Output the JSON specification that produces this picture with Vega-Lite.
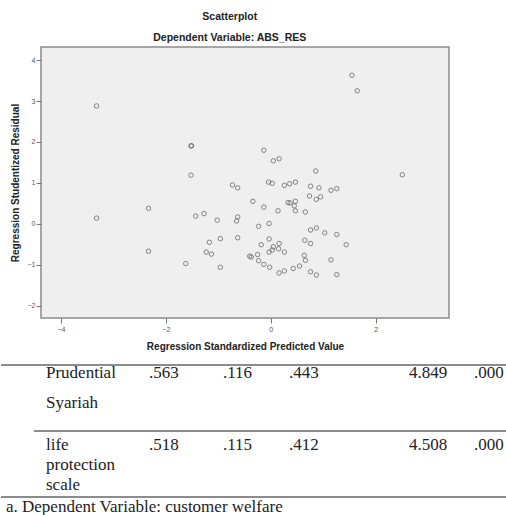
{
  "$schema": "https://vega.github.io/schema/vega-lite/v6.json",
  "background": "white",
  "padding": {"left": 0, "top": 11, "right": 0, "bottom": 0},
  "config": {"view": {"stroke": null}, "font": "Liberation Sans"},
  "datasets": {
    "points": [
      {"predicted": -3.32, "residual": 2.88}, {"predicted": -3.32, "residual": 0.14},
      {"predicted": -2.33, "residual": 0.38}, {"predicted": -2.33, "residual": -0.67},
      {"predicted": -1.52, "residual": 1.90}, {"predicted": -1.51, "residual": 1.91},
      {"predicted": -1.52, "residual": 1.19}, {"predicted": -1.62, "residual": -0.97},
      {"predicted": -1.43, "residual": 0.19}, {"predicted": -1.27, "residual": 0.25},
      {"predicted": -1.17, "residual": -0.45}, {"predicted": -1.23, "residual": -0.69},
      {"predicted": -1.13, "residual": -0.74}, {"predicted": -1.02, "residual": 0.09},
      {"predicted": -0.96, "residual": -0.36}, {"predicted": -0.96, "residual": -1.06},
      {"predicted": -0.73, "residual": 0.95}, {"predicted": -0.63, "residual": 0.88},
      {"predicted": -0.63, "residual": 0.17}, {"predicted": -0.65, "residual": 0.07},
      {"predicted": -0.63, "residual": -0.34}, {"predicted": -0.34, "residual": 0.55},
      {"predicted": -0.37, "residual": -0.81}, {"predicted": -0.40, "residual": -0.79},
      {"predicted": -0.25, "residual": -0.75}, {"predicted": 1.55, "residual": 3.63},
      {"predicted": 1.65, "residual": 3.25}, {"predicted": 2.51, "residual": 1.20},
      {"predicted": -0.13, "residual": 1.80}, {"predicted": 0.05, "residual": 1.54},
      {"predicted": 0.16, "residual": 1.59}, {"predicted": 0.86, "residual": 1.29},
      {"predicted": -0.04, "residual": 1.02}, {"predicted": 0.03, "residual": 0.99},
      {"predicted": 0.26, "residual": 0.94}, {"predicted": 0.36, "residual": 0.98},
      {"predicted": 0.47, "residual": 1.02}, {"predicted": 0.76, "residual": 0.92},
      {"predicted": 0.92, "residual": 0.88}, {"predicted": 1.15, "residual": 0.82},
      {"predicted": 1.26, "residual": 0.86}, {"predicted": -0.13, "residual": 0.41},
      {"predicted": 0.33, "residual": 0.52}, {"predicted": 0.37, "residual": 0.51},
      {"predicted": 0.47, "residual": 0.55}, {"predicted": 0.45, "residual": 0.44},
      {"predicted": 0.47, "residual": 0.32}, {"predicted": 0.14, "residual": 0.32},
      {"predicted": 0.66, "residual": 0.29}, {"predicted": 0.74, "residual": 0.68},
      {"predicted": 0.87, "residual": 0.60}, {"predicted": 0.95, "residual": 0.66},
      {"predicted": -0.23, "residual": -0.06}, {"predicted": -0.03, "residual": 0.01},
      {"predicted": 0.76, "residual": -0.15}, {"predicted": 0.87, "residual": -0.10},
      {"predicted": 1.03, "residual": -0.22}, {"predicted": 1.26, "residual": -0.26},
      {"predicted": 1.44, "residual": -0.51}, {"predicted": -0.03, "residual": -0.37},
      {"predicted": -0.18, "residual": -0.51}, {"predicted": 0.05, "residual": -0.56},
      {"predicted": 0.16, "residual": -0.48}, {"predicted": 0.15, "residual": -0.61},
      {"predicted": 0.03, "residual": -0.64}, {"predicted": -0.03, "residual": -0.69},
      {"predicted": 0.26, "residual": -0.69}, {"predicted": 0.65, "residual": -0.40},
      {"predicted": 0.76, "residual": -0.48}, {"predicted": 0.64, "residual": -0.77},
      {"predicted": 0.66, "residual": -0.89}, {"predicted": 1.15, "residual": -0.88},
      {"predicted": -0.23, "residual": -0.90}, {"predicted": -0.13, "residual": -0.99},
      {"predicted": -0.02, "residual": -1.06}, {"predicted": 0.16, "residual": -1.20},
      {"predicted": 0.26, "residual": -1.15}, {"predicted": 0.43, "residual": -1.09},
      {"predicted": 0.55, "residual": -1.03}, {"predicted": 0.76, "residual": -1.17},
      {"predicted": 0.87, "residual": -1.25}, {"predicted": 1.26, "residual": -1.24}
    ],
    "table": [
      {"row": "Prudential Syariah", "name": "Prudential\nSyariah", "B": ".563", "SE": ".116", "Beta": ".443", "t": "4.849", "Sig": ".000"},
      {"row": "life protection scale", "name": "\u00a0life\nprotection\nscale", "B": ".518", "SE": ".115", "Beta": ".412", "t": "4.508", "Sig": ".000"}
    ]
  },
  "spacing": 12,
  "vconcat": [
    {
      "spacing": 0,
      "hconcat": [
        {
          "width": 8, "height": 10,
          "data": {"values": [{"blank": ""}]},
          "mark": {"type": "text"},
          "encoding": {"text": {"field": "blank"}}
        },
        {
          "width": 408, "height": 271,
          "view": {"fill": "#efefef", "stroke": "#8c8c8c", "strokeWidth": 1.5},
          "title": {
            "text": "Scatterplot", "subtitle": "Dependent Variable: ABS_RES",
            "fontSize": 10.5, "subtitleFontSize": 10.5, "fontWeight": "bold", "subtitleFontWeight": "bold",
            "color": "#222", "subtitleColor": "#222", "anchor": "middle", "frame": "bounds",
            "offset": 4, "subtitlePadding": 10
          },
          "data": {"name": "points"},
          "mark": {"type": "point", "shape": "circle", "filled": false, "size": 20, "strokeWidth": 1, "color": "#555"},
          "encoding": {
            "x": {
              "field": "predicted", "type": "quantitative",
              "scale": {"domain": [-4.38, 3.4], "nice": false, "zero": false},
              "axis": {
                "title": "Regression Standardized Predicted Value", "values": [-4, -2, 0, 2],
                "domain": false, "grid": false, "tickSize": 5, "tickColor": "#777",
                "labelFontSize": 7, "labelColor": "#555", "labelPadding": 2,
                "titleFontSize": 10, "titleFontWeight": "bold", "titleColor": "#222", "titlePadding": 9
              }
            },
            "y": {
              "field": "residual", "type": "quantitative",
              "scale": {"domain": [-2.3, 4.32], "nice": false, "zero": false},
              "axis": {
                "title": "Regression Studentized Residual", "values": [-2, -1, 0, 1, 2, 3, 4],
                "domain": false, "grid": false, "tickSize": 5, "tickColor": "#777",
                "labelFontSize": 7, "labelColor": "#555", "labelPadding": 1,
                "titleFontSize": 10, "titleFontWeight": "bold", "titleColor": "#222", "titlePadding": 6.5
              }
            }
          }
        }
      ]
    },
    {
      "spacing": 0,
      "vconcat": [
        {
          "spacing": 0,
          "bounds": "flush",
          "data": {"name": "table"},
          "hconcat": [
            {
              "width": 33, "height": 132,
              "layer": [
                {"transform": [{"filter": "datum.row == 'Prudential Syariah'"}], "mark": {"type": "rule", "color": "#666", "strokeWidth": 1.5}, "encoding": {"y": {"field": "row", "type": "nominal", "sort": null, "scale": {"paddingInner": 0, "paddingOuter": 0}, "axis": null, "bandPosition": 0}}},
                {"transform": [{"filter": "datum.row == 'life protection scale'"}], "mark": {"type": "rule", "color": "#666", "strokeWidth": 1.5}, "encoding": {"y": {"field": "row", "type": "nominal", "sort": null, "scale": {"paddingInner": 0, "paddingOuter": 0}, "axis": null, "bandPosition": 1}}}
              ]
            },
            {
              "width": 24, "height": 132,
              "layer": [
                {"mark": {"type": "rule", "color": "#666", "strokeWidth": 1.5}, "encoding": {"y": {"field": "row", "type": "nominal", "sort": null, "scale": {"paddingInner": 0, "paddingOuter": 0}, "axis": null, "bandPosition": 0}}},
                {"transform": [{"filter": "datum.row == 'life protection scale'"}], "mark": {"type": "rule", "color": "#666", "strokeWidth": 1.5}, "encoding": {"y": {"field": "row", "type": "nominal", "sort": null, "scale": {"paddingInner": 0, "paddingOuter": 0}, "axis": null, "bandPosition": 1}}},
                {"transform": [{"filter": "datum.row == 'Prudential Syariah'"}], "mark": {"type": "text", "align": "left", "baseline": "top", "font": "Liberation Serif", "fontSize": 17, "color": "#222", "lineBreak": "\n", "lineHeight": 30}, "encoding": {"y": {"field": "row", "type": "nominal", "sort": null, "axis": null, "bandPosition": 0}, "text": {"field": "name"}}},
                {"transform": [{"filter": "datum.row == 'life protection scale'"}], "mark": {"type": "text", "align": "left", "baseline": "top", "font": "Liberation Serif", "fontSize": 17, "color": "#222", "lineBreak": "\n", "lineHeight": 20, "dy": 6}, "encoding": {"y": {"field": "row", "type": "nominal", "sort": null, "axis": null, "bandPosition": 0}, "text": {"field": "name"}}}
              ]
            },
            {
              "width": 71, "height": 132,
              "layer": [
                {"mark": {"type": "rule", "color": "#666", "strokeWidth": 1.5}, "encoding": {"y": {"field": "row", "type": "nominal", "sort": null, "scale": {"paddingInner": 0, "paddingOuter": 0}, "axis": null, "bandPosition": 0}}},
                {"transform": [{"filter": "datum.row == 'life protection scale'"}], "mark": {"type": "rule", "color": "#666", "strokeWidth": 1.5}, "encoding": {"y": {"field": "row", "type": "nominal", "sort": null, "scale": {"paddingInner": 0, "paddingOuter": 0}, "axis": null, "bandPosition": 1}}}
              ]
            },
            {
              "width": 40, "height": 132,
              "layer": [
                {"mark": {"type": "rule", "color": "#666", "strokeWidth": 1.5}, "encoding": {"y": {"field": "row", "type": "nominal", "sort": null, "scale": {"paddingInner": 0, "paddingOuter": 0}, "axis": null, "bandPosition": 0}}},
                {"transform": [{"filter": "datum.row == 'life protection scale'"}], "mark": {"type": "rule", "color": "#666", "strokeWidth": 1.5}, "encoding": {"y": {"field": "row", "type": "nominal", "sort": null, "scale": {"paddingInner": 0, "paddingOuter": 0}, "axis": null, "bandPosition": 1}}},
                {"mark": {"type": "text", "align": "left", "baseline": "top", "font": "Liberation Serif", "fontSize": 17, "color": "#222"}, "encoding": {"y": {"field": "row", "type": "nominal", "sort": null, "axis": null, "bandPosition": 0}, "yOffset": {"field": "row", "type": "nominal", "sort": null, "scale": {"type": "point", "range": [0, 6], "padding": 0}}, "text": {"field": "B"}}}
              ]
            },
            {
              "width": 108, "height": 132,
              "layer": [
                {"mark": {"type": "rule", "color": "#666", "strokeWidth": 1.5}, "encoding": {"y": {"field": "row", "type": "nominal", "sort": null, "scale": {"paddingInner": 0, "paddingOuter": 0}, "axis": null, "bandPosition": 0}}},
                {"transform": [{"filter": "datum.row == 'life protection scale'"}], "mark": {"type": "rule", "color": "#666", "strokeWidth": 1.5}, "encoding": {"y": {"field": "row", "type": "nominal", "sort": null, "scale": {"paddingInner": 0, "paddingOuter": 0}, "axis": null, "bandPosition": 1}}},
                {"mark": {"type": "text", "align": "left", "baseline": "top", "font": "Liberation Serif", "fontSize": 17, "color": "#222"}, "encoding": {"y": {"field": "row", "type": "nominal", "sort": null, "axis": null, "bandPosition": 0}, "yOffset": {"field": "row", "type": "nominal", "sort": null, "scale": {"type": "point", "range": [0, 6], "padding": 0}}, "text": {"field": "SE"}}}
              ]
            },
            {
              "width": 24, "height": 132,
              "layer": [
                {"mark": {"type": "rule", "color": "#666", "strokeWidth": 1.5}, "encoding": {"y": {"field": "row", "type": "nominal", "sort": null, "scale": {"paddingInner": 0, "paddingOuter": 0}, "axis": null, "bandPosition": 0}}},
                {"transform": [{"filter": "datum.row == 'life protection scale'"}], "mark": {"type": "rule", "color": "#666", "strokeWidth": 1.5}, "encoding": {"y": {"field": "row", "type": "nominal", "sort": null, "scale": {"paddingInner": 0, "paddingOuter": 0}, "axis": null, "bandPosition": 1}}},
                {"mark": {"type": "text", "align": "left", "baseline": "top", "font": "Liberation Serif", "fontSize": 17, "color": "#222"}, "encoding": {"y": {"field": "row", "type": "nominal", "sort": null, "axis": null, "bandPosition": 0}, "yOffset": {"field": "row", "type": "nominal", "sort": null, "scale": {"type": "point", "range": [0, 6], "padding": 0}}, "text": {"field": "Beta"}}}
              ]
            },
            {
              "width": 60, "height": 132,
              "layer": [
                {"mark": {"type": "rule", "color": "#666", "strokeWidth": 1.5}, "encoding": {"y": {"field": "row", "type": "nominal", "sort": null, "scale": {"paddingInner": 0, "paddingOuter": 0}, "axis": null, "bandPosition": 0}}},
                {"transform": [{"filter": "datum.row == 'life protection scale'"}], "mark": {"type": "rule", "color": "#666", "strokeWidth": 1.5}, "encoding": {"y": {"field": "row", "type": "nominal", "sort": null, "scale": {"paddingInner": 0, "paddingOuter": 0}, "axis": null, "bandPosition": 1}}}
              ]
            },
            {
              "width": 96, "height": 132,
              "layer": [
                {"mark": {"type": "rule", "color": "#666", "strokeWidth": 1.5}, "encoding": {"y": {"field": "row", "type": "nominal", "sort": null, "scale": {"paddingInner": 0, "paddingOuter": 0}, "axis": null, "bandPosition": 0}}},
                {"transform": [{"filter": "datum.row == 'life protection scale'"}], "mark": {"type": "rule", "color": "#666", "strokeWidth": 1.5}, "encoding": {"y": {"field": "row", "type": "nominal", "sort": null, "scale": {"paddingInner": 0, "paddingOuter": 0}, "axis": null, "bandPosition": 1}}},
                {"mark": {"type": "text", "align": "left", "baseline": "top", "font": "Liberation Serif", "fontSize": 17, "color": "#222"}, "encoding": {"y": {"field": "row", "type": "nominal", "sort": null, "axis": null, "bandPosition": 0}, "yOffset": {"field": "row", "type": "nominal", "sort": null, "scale": {"type": "point", "range": [0, 6], "padding": 0}}, "text": {"field": "t"}}}
              ]
            },
            {
              "width": 34, "height": 132,
              "layer": [
                {"mark": {"type": "rule", "color": "#666", "strokeWidth": 1.5}, "encoding": {"y": {"field": "row", "type": "nominal", "sort": null, "scale": {"paddingInner": 0, "paddingOuter": 0}, "axis": null, "bandPosition": 0}}},
                {"transform": [{"filter": "datum.row == 'life protection scale'"}], "mark": {"type": "rule", "color": "#666", "strokeWidth": 1.5}, "encoding": {"y": {"field": "row", "type": "nominal", "sort": null, "scale": {"paddingInner": 0, "paddingOuter": 0}, "axis": null, "bandPosition": 1}}},
                {"mark": {"type": "text", "align": "left", "baseline": "top", "font": "Liberation Serif", "fontSize": 17, "color": "#222"}, "encoding": {"y": {"field": "row", "type": "nominal", "sort": null, "axis": null, "bandPosition": 0}, "yOffset": {"field": "row", "type": "nominal", "sort": null, "scale": {"type": "point", "range": [0, 6], "padding": 0}}, "text": {"field": "Sig"}}}
              ]
            },
            {
              "width": 16, "height": 132,
              "layer": [
                {"mark": {"type": "rule", "color": "#666", "strokeWidth": 1.5}, "encoding": {"y": {"field": "row", "type": "nominal", "sort": null, "scale": {"paddingInner": 0, "paddingOuter": 0}, "axis": null, "bandPosition": 0}}},
                {"transform": [{"filter": "datum.row == 'life protection scale'"}], "mark": {"type": "rule", "color": "#666", "strokeWidth": 1.5}, "encoding": {"y": {"field": "row", "type": "nominal", "sort": null, "scale": {"paddingInner": 0, "paddingOuter": 0}, "axis": null, "bandPosition": 1}}}
              ]
            }
          ]
        },
        {
          "width": 10, "height": 14,
          "data": {"values": [{"note": "a. Dependent Variable: customer welfare"}]},
          "mark": {"type": "text", "align": "left", "baseline": "middle", "font": "Liberation Serif", "fontSize": 17, "color": "#222"},
          "encoding": {"text": {"field": "note"}}
        }
      ]
    }
  ]
}
